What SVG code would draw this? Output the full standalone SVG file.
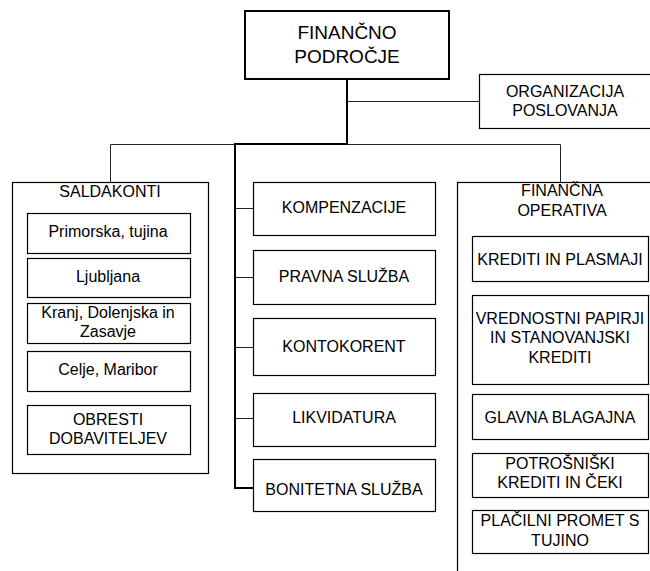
<svg xmlns="http://www.w3.org/2000/svg" width="650" height="571" viewBox="0 0 650 571">
<style>
text{font-family:"Liberation Sans",Arial,sans-serif;font-size:16px;fill:#000;text-anchor:middle}
.big{font-size:19px}
.box{fill:#fff;stroke:#000;stroke-width:1.2}
.thick{fill:#fff;stroke:#000;stroke-width:2}
.thin{fill:none;stroke:#222;stroke-width:1}
.heavy{fill:none;stroke:#000;stroke-width:2}
</style>
<rect width="650" height="571" fill="#fff"/>
<g id="connectors">
<path class="thin" d="M110.5,182 V144.5 H235 M347,144.5 H560.5 V182 M347,101.5 H479"/>
<path class="heavy" d="M347,79 V144 H235 V488 H253"/>
<path class="thin" d="M235,208.5 H253 M235,277.5 H253 M235,347.5 H253 M235,418.5 H253"/>
</g>
<g id="financno-podrocje">
<rect class="thick" x="245" y="11" width="204" height="68"/>
<text class="big" x="347" y="39">FINANČNO</text>
<text class="big" x="347" y="63">PODROČJE</text>
</g>
<g id="organizacija">
<rect class="box" x="479.5" y="74.5" width="175" height="54"/>
<text x="565" y="97">ORGANIZACIJA</text>
<text x="565" y="116">POSLOVANJA</text>
</g>
<g id="saldakonti">
<rect class="box" x="12.5" y="182.5" width="196" height="291"/>
<text x="110" y="197">SALDAKONTI</text>
</g>
<g id="primorska">
<rect class="box" x="27.5" y="213.5" width="163" height="40"/>
<text x="108" y="237">Primorska, tujina</text>
</g>
<g id="ljubljana">
<rect class="box" x="27.5" y="258.5" width="163" height="39"/>
<text x="108" y="282">Ljubljana</text>
</g>
<g id="kranj">
<rect class="box" x="27.5" y="303.5" width="163" height="40"/>
<text x="108" y="318">Kranj, Dolenjska in</text>
<text x="108" y="337">Zasavje</text>
</g>
<g id="celje">
<rect class="box" x="27.5" y="351.5" width="163" height="40"/>
<text x="108" y="375">Celje, Maribor</text>
</g>
<g id="obresti">
<rect class="box" x="27.5" y="405.5" width="163" height="49"/>
<text x="108" y="425">OBRESTI</text>
<text x="108" y="444">DOBAVITELJEV</text>
</g>
<g id="kompenzacije">
<rect class="box" x="253.5" y="182.5" width="182" height="53"/>
<text x="344" y="213">KOMPENZACIJE</text>
</g>
<g id="pravna">
<rect class="box" x="253.5" y="250.5" width="182" height="54"/>
<text x="344" y="282">PRAVNA SLUŽBA</text>
</g>
<g id="kontokorent">
<rect class="box" x="253.5" y="318.5" width="182" height="57"/>
<text x="344" y="352">KONTOKORENT</text>
</g>
<g id="likvidatura">
<rect class="box" x="253.5" y="393.5" width="182" height="53"/>
<text x="344" y="423">LIKVIDATURA</text>
</g>
<g id="bonitetna">
<rect class="box" x="253.5" y="459.5" width="182" height="52"/>
<text x="344" y="495">BONITETNA SLUŽBA</text>
</g>
<g id="financna-operativa">
<rect class="box" x="457.5" y="182.5" width="200" height="400"/>
<text x="562" y="196">FINANČNA</text>
<text x="562" y="216">OPERATIVA</text>
</g>
<g id="krediti">
<rect class="box" x="472.5" y="236.5" width="176" height="45"/>
<text x="560" y="265">KREDITI IN PLASMAJI</text>
</g>
<g id="vrednostni">
<rect class="box" x="472.5" y="295.5" width="176" height="89"/>
<text x="560" y="324">VREDNOSTNI PAPIRJI</text>
<text x="560" y="343">IN STANOVANJSKI</text>
<text x="560" y="363">KREDITI</text>
</g>
<g id="glavna">
<rect class="box" x="472.5" y="394.5" width="176" height="45"/>
<text x="560" y="423">GLAVNA BLAGAJNA</text>
</g>
<g id="potrosniski">
<rect class="box" x="472.5" y="453.5" width="176" height="44"/>
<text x="560" y="469">POTROŠNIŠKI</text>
<text x="560" y="488">KREDITI IN ČEKI</text>
</g>
<g id="placilni">
<rect class="box" x="472.5" y="510.5" width="176" height="43"/>
<text x="560" y="526">PLAČILNI PROMET S</text>
<text x="560" y="546">TUJINO</text>
</g>
</svg>
